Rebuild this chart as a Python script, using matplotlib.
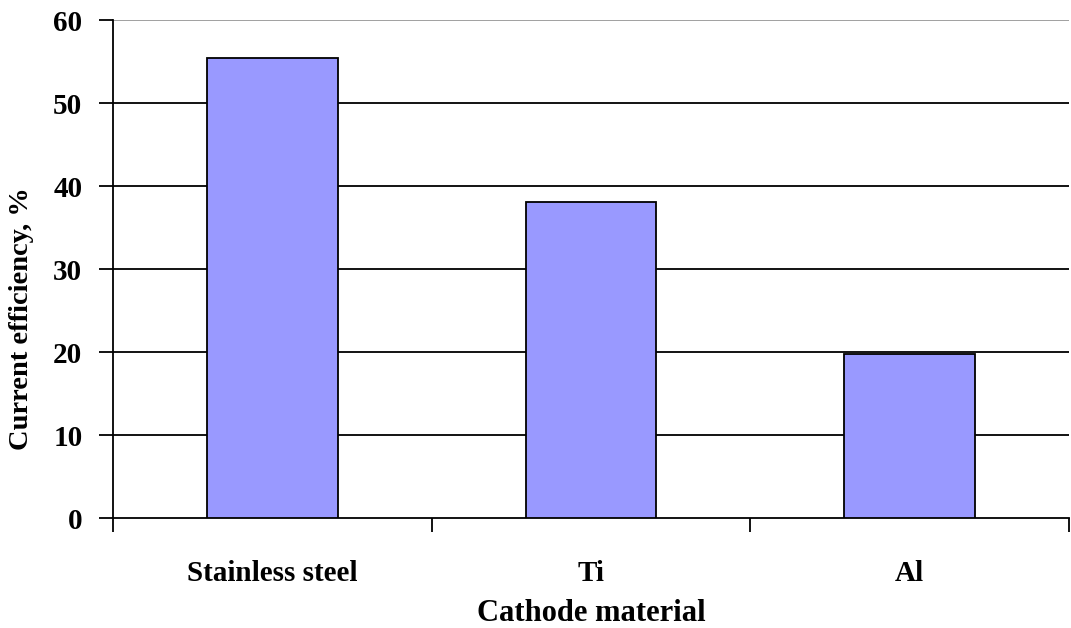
import numpy as np
import matplotlib.pyplot as plt

materials = ['Stainless steel', 'Ti', 'Al']
efficiency = [55.4, 38.1, 19.8]
yticks = [0, 10, 20, 30, 40, 50, 60]

plt.rcParams['font.family'] = 'Liberation Serif'
plt.rcParams['font.weight'] = 'bold'

fig = plt.figure(figsize=(10.71, 6.28), dpi=100)
ax = fig.add_axes([0.1055, 0.175, 0.8925, 0.793])

x = np.arange(len(materials))
ax.bar(x, efficiency, width=0.41, color='#9999ff', edgecolor='black',
       linewidth=1.3, zorder=3)

ax.set_xlim(-0.5, len(materials) - 0.5)
ax.set_ylim(0, 60)
ax.set_yticks(yticks)
ax.set_yticklabels([str(t) for t in yticks], fontsize=21, fontweight='bold')

# gridlines, top one in grey
for t in yticks[1:]:
    ax.axhline(t, color='#999999' if t == 60 else 'black', linewidth=1.3, zorder=1)

# category labels in the middle, ticks at the boundaries
ax.set_xticks(np.arange(len(materials) + 1) - 0.5)
ax.set_xticklabels([])
ax.set_xticks(x, minor=True)
ax.set_xticklabels(materials, minor=True, fontsize=21, fontweight='bold')
ax.tick_params(axis='x', which='minor', length=0, pad=30)
ax.tick_params(axis='x', which='major', length=10, width=1.3, direction='out')
ax.tick_params(axis='y', length=10, width=1.3, direction='out', pad=12)

for side in ['top', 'right']:
    ax.spines[side].set_visible(False)
for side in ['left', 'bottom']:
    ax.spines[side].set_linewidth(1.3)

ax.set_xlabel('Cathode material', fontsize=22, fontweight='bold', labelpad=9)
ax.set_ylabel('Current efficiency, %', fontsize=20.5, fontweight='bold')
ax.yaxis.set_label_coords(-0.083, 0.40)

fig.savefig('out.png', dpi=100)
